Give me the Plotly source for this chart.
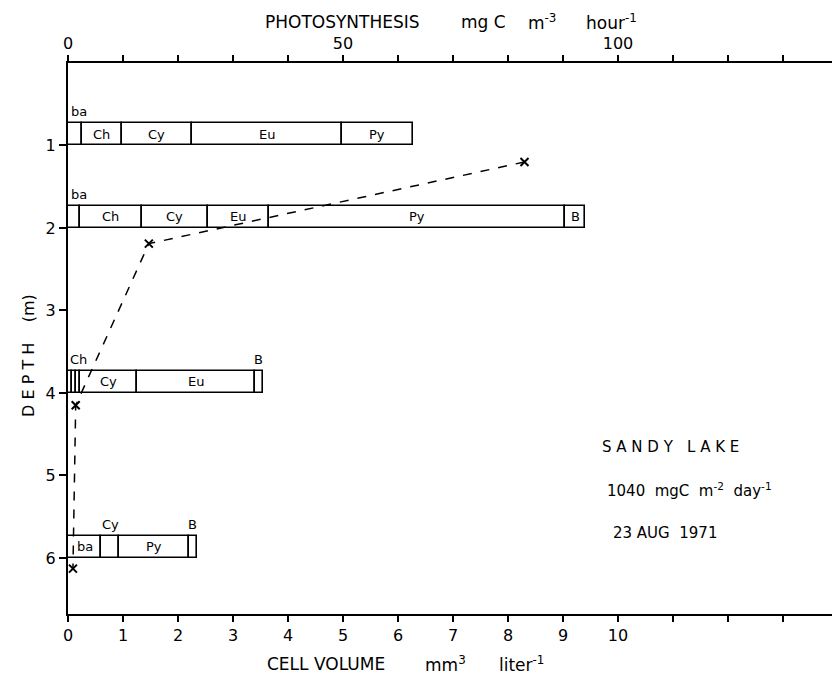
import plotly.graph_objects as go

# ---- data ----
depths = [1, 2, 4, 6]
# segment boundaries of cell volume (mm3 per liter) at each depth
bounds_d1 = [0, 0.25, 0.98, 2.25, 4.98, 6.27]
bounds_d2 = [0, 0.21, 1.34, 2.54, 3.65, 9.04, 9.40]
bounds_d4 = [0, 0.08, 0.15, 0.22, 1.25, 3.40, 3.54]
bounds_d6 = [0, 0.60, 0.93, 2.20, 2.34]
# segment names (inside labels) and labels written above the bar
inside_d1 = ["", "Ch", "Cy", "Eu", "Py"]
inside_d2 = ["", "Ch", "Cy", "Eu", "Py", "B"]
inside_d4 = ["", "", "", "Cy", "Eu", ""]
inside_d6 = ["ba", "", "Py", ""]
above_d1 = ["ba", "", "", "", ""]
above_d2 = ["ba", "", "", "", "", ""]
above_d4 = ["", "Ch", "", "", "", "B"]
above_d6 = ["", "Cy", "", "B"]

# photosynthesis profile (mg C m-3 hour-1)
ps_depth = [1.20, 2.19, 4.15, 6.13]
ps_value = [83.0, 14.7, 1.4, 0.9]

bottom_ticks = list(range(0, 14))
bottom_labels = [str(v) if v <= 10 else "" for v in bottom_ticks]
top_ticks = list(range(0, 140, 10))
top_labels = [str(v) if v in (0, 50, 100) else "" for v in top_ticks]
depth_ticks = [1, 2, 3, 4, 5, 6]

top_title_parts = ["PHOTOSYNTHESIS", "mg C", "m<sup>-3</sup>", "hour<sup>-1</sup>"]
bottom_title_parts = ["CELL VOLUME", "mm<sup>3</sup>", "liter<sup>-1</sup>"]

FONT = "DejaVu Sans"
BAR_H = 0.27

fig = go.Figure()

all_bounds = [bounds_d1, bounds_d2, bounds_d4, bounds_d6]
all_inside = [inside_d1, inside_d2, inside_d4, inside_d6]
all_above = [above_d1, above_d2, above_d4, above_d6]

lab_font = dict(size=13, color="black", family=FONT)
annotations = []
for d, bnds, ins, abv in zip(depths, all_bounds, all_inside, all_above):
    starts = bnds[:-1]
    widths = [b - a for a, b in zip(bnds[:-1], bnds[1:])]
    yc = d - BAR_H / 2
    fig.add_trace(go.Bar(
        orientation="h", y=[yc] * len(widths), x=widths, base=starts,
        width=BAR_H, marker=dict(color="white", line=dict(color="black", width=1.6)),
        showlegend=False, hoverinfo="skip"))
    for i, (s, w) in enumerate(zip(starts, widths)):
        if ins[i]:
            annotations.append(dict(x=s + w / 2, y=yc, xref="x", yref="y", text=ins[i],
                                    xanchor="center", yanchor="middle",
                                    showarrow=False, font=lab_font))
        if abv[i]:
            if i == 0 or (i == 1 and s < 0.3):
                annotations.append(dict(x=s + 0.02 if i == 0 else 0.0, y=d - BAR_H, xref="x", yref="y",
                                        text=abv[i], showarrow=False, xanchor="left", yanchor="bottom",
                                        yshift=2, font=lab_font))
            else:
                annotations.append(dict(x=s + w / 2, y=d - BAR_H, xref="x", yref="y", text=abv[i],
                                        showarrow=False, xanchor="center", yanchor="bottom", yshift=2,
                                        font=lab_font))

fig.add_trace(go.Scatter(
    x=ps_value, y=ps_depth, xaxis="x2", yaxis="y", mode="lines+markers",
    line=dict(color="black", width=1.5, dash="dash"),
    marker=dict(symbol="x-thin", size=8, line=dict(color="black", width=2)),
    showlegend=False, hoverinfo="skip"))

txt_font = dict(size=17, color="black", family=FONT)
# axis titles, placed piece by piece (paper x positions)
for t, px in zip(top_title_parts, [0.355, 0.5376, 0.614, 0.7034]):
    annotations.append(dict(x=px, y=1.074, xref="paper", yref="paper", showarrow=False,
                            xanchor="center", yanchor="middle", text=t, font=txt_font))
for t, px in zip(bottom_title_parts, [0.334, 0.4896, 0.588]):
    annotations.append(dict(x=px, y=-0.091, xref="paper", yref="paper", showarrow=False,
                            xanchor="center", yanchor="middle", text=t, font=txt_font))
annotations += [
    dict(x=-0.052, y=0.47, xref="paper", yref="paper", showarrow=False, textangle=-90,
         xanchor="center", yanchor="middle",
         text="D E P T H &nbsp;&nbsp;&nbsp;(m)", font=dict(size=16, color="black", family=FONT)),
    dict(x=10.95, y=4.65, xref="x", yref="y", showarrow=False, text="S A N D Y &nbsp; L A K E",
         xanchor="center", yanchor="middle", font=dict(size=15, color="black", family=FONT)),
    dict(x=11.3, y=5.18, xref="x", yref="y", showarrow=False,
         xanchor="center", yanchor="middle",
         text="1040 &nbsp;mgC &nbsp;m<sup>-2</sup> &nbsp;day<sup>-1</sup>",
         font=dict(size=15, color="black", family=FONT)),
    dict(x=10.85, y=5.7, xref="x", yref="y", showarrow=False, text="23 AUG &nbsp;1971",
         xanchor="center", yanchor="middle", font=dict(size=15, color="black", family=FONT)),
]

# the page body has an 8px margin, so the figure is 8px smaller than the window
XMAX = 772 / 55.0
tick_font = dict(size=16, color="black", family=FONT)
fig.update_layout(
    width=832, height=670,
    margin=dict(l=60, r=0, t=55, b=64, autoexpand=False),
    plot_bgcolor="white", paper_bgcolor="white",
    barmode="overlay", bargap=0,
    font=dict(family=FONT, color="black"),
    xaxis=dict(range=[0, XMAX], tickvals=bottom_ticks, ticktext=bottom_labels, automargin=False,
               ticks="outside", ticklen=6, tickwidth=1.5, tickcolor="black",
               showline=True, linecolor="black", linewidth=2, showgrid=False, zeroline=False,
               tickfont=tick_font, fixedrange=True),
    xaxis2=dict(range=[0, XMAX * 10], overlaying="x", side="top", tickvals=top_ticks, automargin=False,
                ticktext=top_labels, ticks="outside", ticklen=6, tickwidth=1.5, tickcolor="black",
                showline=True, linecolor="black", linewidth=2, showgrid=False, zeroline=False,
                tickfont=tick_font),
    yaxis=dict(range=[6.68, 0], tickvals=depth_ticks, ticks="outside", ticklen=7, tickwidth=1.5,
               automargin=False,
               tickcolor="black", showline=True, linecolor="black", linewidth=2, showgrid=False,
               zeroline=False, tickfont=tick_font),
    annotations=annotations,
)

fig.write_html("out.html")
